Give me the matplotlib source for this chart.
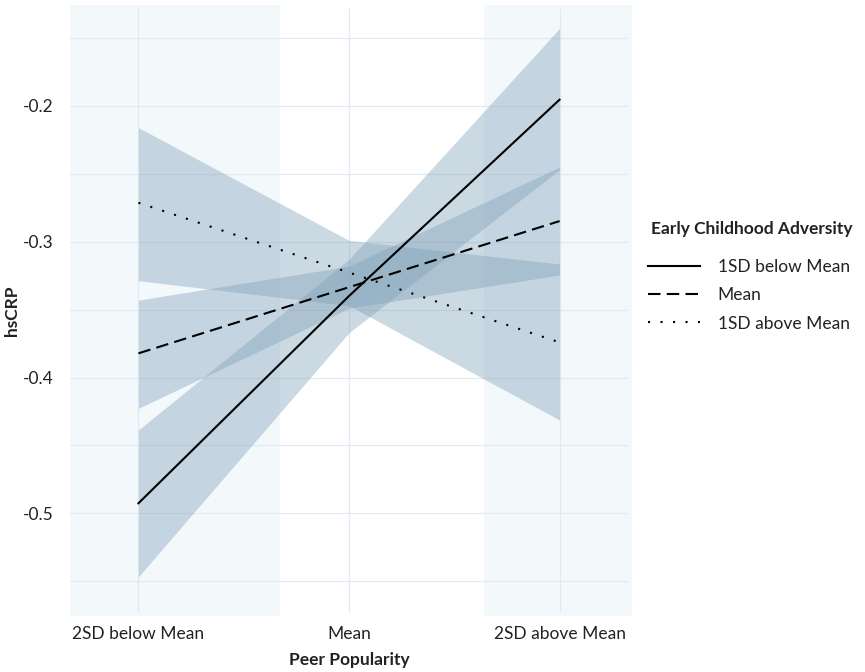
import numpy as np
import matplotlib
matplotlib.use('Agg')
import matplotlib.pyplot as plt
from matplotlib.lines import Line2D

# data
x_labels = ['2SD below Mean', 'Mean', '2SD above Mean']
groups = ['1SD below Mean', 'Mean', '1SD above Mean']

fit_low = [-0.4926, -0.3400, -0.1954]
lo_low = [-0.5467, -0.3670, -0.2470]
hi_low = [-0.4386, -0.3130, -0.1429]

fit_mid = [-0.3822, -0.3335, -0.2848]
lo_mid = [-0.4227, -0.3490, -0.3245]
hi_mid = [-0.3430, -0.3180, -0.2450]

fit_high = [-0.2713, -0.3227, -0.3741]
lo_high = [-0.3287, -0.3470, -0.4313]
hi_high = [-0.2160, -0.2990, -0.3164]

y_ticks = [-0.5, -0.4, -0.3, -0.2]


def main():
    plt.rcParams['font.family'] = ['Lato', 'DejaVu Sans']
    fs = 12.5
    text_col = '#222222'
    grid_col = '#e3e9f0'
    strip_col = '#f3f8fb'
    band_col = '#7fa0b8'

    fig = plt.figure(figsize=(8.65, 6.72), dpi=100)
    ax = fig.add_axes([70/865, 1-616/672, 558/865, 611/672])

    x = np.arange(1, 4)

    ax.set_xlim(0.675, 3.325)
    ax.set_ylim(-0.5756, -0.1257)

    # shaded strips behind the outer categories
    ax.axvspan(0.675, 1.672, color=strip_col, zorder=0, lw=0)
    ax.axvspan(2.641, 3.344, color=strip_col, zorder=0, lw=0, clip_on=False)

    # grid
    for gy in np.arange(-0.55, -0.14, 0.05):
        ax.axhline(gy, color=grid_col, lw=0.9, zorder=1)
    ax.vlines(x, -0.5727, -0.1277, color=grid_col, lw=0.9, zorder=1)

    bands = [(lo_low, hi_low), (lo_mid, hi_mid), (lo_high, hi_high)]
    for lo, hi in bands:
        ax.fill_between(x, lo, hi, color=band_col, alpha=0.4, lw=0, zorder=2)

    styles = ['-', (0, (6, 3)), (0, (1, 5))]
    fits = [fit_low, fit_mid, fit_high]
    handles = []
    for f, ls, g in zip(fits, styles, groups):
        ax.plot(x, f, color='black', lw=1.5, linestyle=ls, zorder=3)
        handles.append(Line2D([], [], color='black', lw=1.5, linestyle=ls, label=g))

    ax.set_xticks(x)
    ax.set_xticklabels(x_labels)
    ax.set_yticks(y_ticks)
    ax.set_yticklabels(['%.1f' % v for v in y_ticks])
    ax.tick_params(length=0, labelsize=fs, colors=text_col, pad=7.5)
    ax.tick_params(axis='y', pad=12)
    for s in ax.spines.values():
        s.set_visible(False)

    ax.set_xlabel('Peer Popularity', fontsize=fs, fontweight='bold', color=text_col, labelpad=7)
    ax.set_ylabel('hsCRP', fontsize=fs, fontweight='bold', color=text_col)
    ax.yaxis.set_label_coords(-0.09, 0.5)

    fig.text(651/865, 1-229/672, 'Early Childhood Adversity', fontsize=fs,
             fontweight='bold', color=text_col, va='center', ha='left')
    leg = fig.legend(handles=handles, loc='upper left', bbox_to_anchor=(643/865, 1-254/672),
                     frameon=False, fontsize=fs, handlelength=3.0, labelspacing=0.7,
                     handletextpad=1.0, borderaxespad=0, borderpad=0.3)
    for t in leg.get_texts():
        t.set_color(text_col)

    fig.savefig('out.png', dpi=100)
    plt.close(fig)


if __name__ == '__main__':
    main()
